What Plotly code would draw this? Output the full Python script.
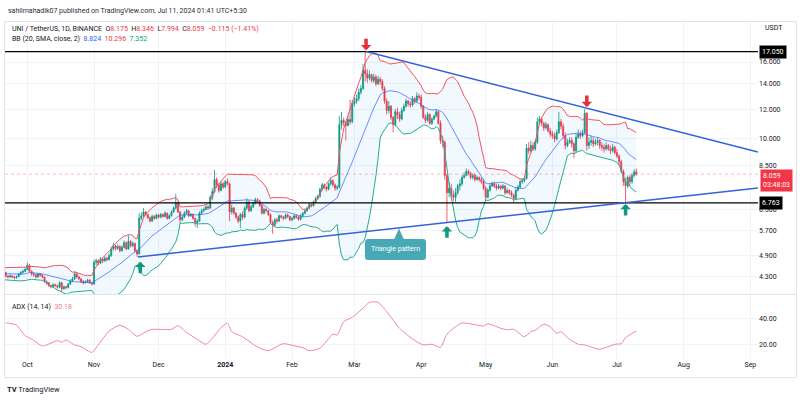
import numpy as np
import pandas as pd
import plotly.graph_objects as go
from plotly.subplots import make_subplots

FONT = "Roboto, 'Liberation Sans', Arial, sans-serif"
TXT = "#131722"
UP = "#089981"
DN = "#F23645"

# ---------------- data: UNI/USDT daily (Sep 1 2023 -> Jul 10 2024) ----------------
first_open = 4.40
last_open = 8.175
closes = [
    # Sep 2023
    4.38, 4.36, 4.35, 4.30, 4.33, 4.36, 4.40, 4.45, 4.44, 4.30, 4.20, 4.28, 4.35, 4.42, 4.48,
    4.50, 4.46, 4.52, 4.48, 4.42, 4.32, 4.30, 4.33, 4.30, 4.28, 4.31, 4.38, 4.42, 4.45, 4.50,
    # Oct
    4.62, 4.45, 4.38, 4.36, 4.30, 4.38, 4.35, 4.30, 4.18, 4.15, 4.08, 4.05, 4.10, 4.08, 4.04, 4.15,
    4.00, 4.05, 4.03, 4.12, 4.20, 4.25, 4.38, 4.30, 4.25, 4.18, 4.15, 4.18, 4.22, 4.15, 4.12,
    # Nov
    4.70, 4.75, 4.68, 4.80, 4.74, 4.82, 4.78, 4.90, 5.10, 5.20, 5.12, 5.18, 5.05, 5.15, 5.30,
    5.10, 5.35, 5.20, 5.28, 5.05, 4.95, 6.15, 6.25, 6.40, 6.30, 6.18, 6.05, 6.22, 6.15, 6.28,
    # Dec
    6.20, 6.30, 6.22, 6.35, 6.15, 6.25, 6.40, 6.55, 6.75, 6.40, 6.10, 6.20, 6.35, 6.45, 6.25, 6.30,
    6.15, 6.00, 6.05, 6.35, 6.45, 6.50, 6.60, 6.55, 7.00, 7.25, 7.80, 7.55, 7.30, 7.60, 7.45,
    # Jan 2024
    7.70, 7.60, 6.40, 6.55, 6.35, 6.20, 6.05, 6.30, 6.20, 6.55, 6.80, 6.45, 6.60, 6.75, 6.90, 6.85,
    6.65, 6.35, 6.50, 6.45, 6.30, 6.00, 5.90, 6.10, 6.05, 6.25, 6.20, 6.15, 6.28, 6.22, 6.10,
    # Feb
    6.15, 6.25, 6.20, 6.12, 6.25, 6.35, 6.45, 6.55, 6.70, 6.65, 6.80, 6.95, 7.05, 7.35, 7.55,
    7.45, 7.35, 7.60, 7.75, 7.55, 7.40, 7.45, 10.90, 11.20, 11.05, 10.85, 11.25, 11.10, 12.40,
    # Mar
    12.60, 12.80, 13.30, 13.60, 15.20, 14.90, 14.50, 14.80, 14.30, 14.60, 14.00, 14.40, 14.20, 13.60, 12.60, 11.90,
    12.20, 11.40, 10.90, 11.80, 11.60, 11.30, 11.90, 12.20, 12.60, 12.40, 12.30, 12.80, 12.60, 13.00, 12.90,
    # Apr
    12.20, 11.40, 11.20, 11.60, 11.00, 11.30, 11.50, 11.80, 11.00, 9.90, 9.80, 8.00, 7.20, 7.40, 7.10,
    7.00, 7.20, 7.50, 7.60, 7.90, 8.00, 8.20, 8.10, 7.90, 8.00, 7.80, 7.90, 7.80, 7.70, 7.40,
    # May
    7.00, 7.30, 7.50, 7.60, 7.50, 7.40, 7.50, 7.40, 7.50, 7.20, 7.30, 7.20, 7.10, 6.95, 7.30, 7.45,
    7.70, 7.75, 7.85, 9.45, 9.30, 9.60, 9.40, 9.80, 11.10, 11.30, 11.00, 10.70, 10.90, 10.50, 10.30,
    # Jun
    10.20, 10.00, 10.40, 11.10, 10.80, 10.20, 9.60, 9.80, 9.90, 9.70, 9.30, 10.10, 10.30, 10.20, 10.40,
    11.70, 9.60, 9.80, 9.90, 9.70, 9.80, 9.90, 9.60, 9.50, 9.40, 9.60, 9.40, 9.30, 9.50, 9.20,
    # Jul
    9.00, 8.70, 8.20, 7.70, 7.50, 7.90, 7.70, 8.00, 8.174, 8.059,
]
highs = [
    4.42, 4.41, 4.39, 4.37, 4.36, 4.39, 4.43, 4.49, 4.48, 4.45, 4.31, 4.31, 4.38, 4.45, 4.51,
    4.55, 4.52, 4.56, 4.54, 4.50, 4.44, 4.35, 4.37, 4.35, 4.33, 4.34, 4.40, 4.46, 4.50, 4.55,
    4.70, 4.66, 4.48, 4.42, 4.38, 4.41, 4.40, 4.37, 4.31, 4.21, 4.17, 4.10, 4.14, 4.13, 4.10, 4.19,
    4.17, 4.08, 4.08, 4.15, 4.24, 4.30, 4.46, 4.44, 4.33, 4.28, 4.22, 4.21, 4.25, 4.24, 4.17,
    4.78, 4.82, 4.79, 4.86, 4.83, 4.88, 4.86, 4.96, 5.18, 5.30, 5.24, 5.25, 5.22, 5.22, 5.38,
    5.34, 5.55, 5.38, 5.34, 5.30, 5.10, 6.35, 6.38, 6.55, 6.45, 6.34, 6.22, 6.30, 6.28, 6.34,
    6.32, 6.36, 6.34, 6.42, 6.38, 6.30, 6.46, 6.62, 7.15, 6.80, 6.44, 6.28, 6.42, 6.52, 6.48, 6.36,
    6.34, 6.18, 6.12, 6.42, 6.52, 6.58, 6.68, 6.66, 7.10, 7.40, 8.27, 7.90, 7.62, 7.70, 7.68,
    7.78, 7.85, 7.65, 6.70, 6.60, 6.40, 6.26, 6.36, 6.42, 6.62, 6.95, 6.86, 6.68, 6.82, 6.98, 6.96,
    6.90, 6.70, 6.58, 6.55, 6.48, 6.34, 6.08, 6.16, 6.18, 6.30, 6.30, 6.24, 6.34, 6.34, 6.26,
    6.22, 6.30, 6.30, 6.24, 6.32, 6.40, 6.50, 6.62, 6.78, 6.76, 6.86, 7.02, 7.12, 7.42, 7.65,
    7.62, 7.48, 7.66, 7.90, 7.80, 7.62, 7.55, 11.50, 11.80, 11.40, 11.15, 11.50, 12.70, 12.65,
    12.90, 13.10, 13.60, 13.90, 15.80, 17.05, 15.30, 15.20, 14.90, 14.90, 14.80, 14.70, 14.60, 14.40, 13.80, 12.80,
    12.60, 12.30, 11.50, 12.00, 12.10, 11.80, 12.10, 12.40, 12.80, 12.70, 12.60, 13.00, 12.90, 13.30, 13.20,
    13.10, 12.30, 11.60, 11.80, 11.70, 11.40, 11.60, 12.00, 11.90, 11.20, 10.20, 9.90, 8.10, 7.70, 7.60,
    7.30, 7.40, 7.60, 7.80, 8.00, 8.15, 8.35, 8.30, 8.20, 8.10, 8.10, 8.00, 7.95, 7.90, 7.80,
    7.50, 7.40, 7.60, 7.70, 7.70, 7.60, 7.60, 7.55, 7.60, 7.55, 7.40, 7.35, 7.30, 7.15, 7.40, 7.55,
    7.80, 7.85, 7.95, 9.70, 9.80, 9.90, 9.80, 9.95, 11.40, 11.50, 11.40, 11.10, 11.10, 11.00, 10.70,
    10.50, 10.40, 10.60, 11.80, 11.30, 11.00, 10.40, 10.00, 10.10, 10.10, 9.80, 10.30, 10.60, 10.50, 10.60,
    12.00, 11.80, 10.10, 10.20, 10.10, 10.00, 10.10, 10.00, 9.80, 9.70, 9.80, 9.70, 9.60, 9.70, 9.60,
    9.40, 9.10, 8.80, 8.30, 7.90, 8.00, 8.00, 8.10, 8.30, 8.346,
]
lows = [
    4.34, 4.32, 4.31, 4.27, 4.28, 4.31, 4.34, 4.39, 4.40, 4.28, 4.15, 4.18, 4.26, 4.33, 4.40,
    4.45, 4.42, 4.44, 4.45, 4.38, 4.29, 4.26, 4.28, 4.27, 4.24, 4.26, 4.29, 4.36, 4.40, 4.43,
    4.48, 4.42, 4.33, 4.31, 4.26, 4.28, 4.31, 4.26, 4.15, 4.10, 4.04, 4.01, 4.03, 4.05, 4.00, 4.02,
    3.92, 3.98, 3.99, 4.01, 4.10, 4.17, 4.22, 4.26, 4.21, 4.14, 4.11, 4.13, 4.15, 4.12, 4.08,
    4.10, 4.63, 4.62, 4.65, 4.68, 4.72, 4.73, 4.76, 4.86, 5.05, 5.05, 5.08, 5.00, 5.02, 5.12,
    5.06, 5.08, 5.15, 5.16, 5.00, 4.86, 4.93, 6.08, 6.20, 6.24, 6.12, 6.00, 6.02, 6.10, 6.12,
    6.14, 6.16, 6.18, 6.20, 6.10, 6.12, 6.22, 6.36, 6.50, 6.35, 5.95, 6.05, 6.16, 6.30, 6.20, 6.20,
    6.10, 5.85, 5.80, 6.02, 6.30, 6.40, 6.46, 6.48, 6.52, 6.90, 7.18, 7.40, 7.20, 7.25, 7.36,
    7.40, 7.52, 6.05, 6.30, 6.28, 6.12, 5.98, 5.80, 6.10, 6.15, 6.48, 6.38, 6.40, 6.55, 6.70, 6.78,
    6.60, 6.30, 6.30, 6.38, 6.24, 5.94, 5.60, 5.86, 5.96, 6.02, 6.14, 6.08, 6.12, 6.16, 6.04,
    6.05, 6.10, 6.14, 6.06, 6.08, 6.20, 6.30, 6.40, 6.50, 6.58, 6.60, 6.76, 6.90, 6.98, 7.28,
    7.35, 7.25, 7.30, 7.52, 7.45, 7.28, 7.30, 7.38, 10.60, 10.80, 9.90, 10.80, 10.90, 11.00,
    12.20, 12.40, 12.60, 13.10, 13.50, 14.20, 14.10, 14.30, 14.10, 14.10, 13.80, 13.90, 13.90, 13.40, 12.40, 11.60,
    11.70, 11.20, 10.40, 10.80, 11.30, 11.10, 11.20, 11.80, 12.10, 12.20, 12.10, 12.20, 12.40, 12.50, 12.70,
    12.00, 11.30, 11.00, 11.10, 10.90, 10.90, 11.20, 11.40, 10.90, 9.70, 9.50, 7.80, 5.98, 7.00, 6.95,
    6.85, 6.80, 7.10, 7.30, 7.50, 7.85, 7.95, 8.00, 7.80, 7.80, 7.70, 7.75, 7.70, 7.60, 7.30,
    6.85, 6.95, 7.25, 7.45, 7.40, 7.30, 7.35, 7.30, 7.35, 7.10, 7.15, 7.10, 7.00, 6.80, 6.90, 7.25,
    7.40, 7.60, 7.65, 7.80, 9.10, 9.20, 9.30, 9.30, 9.70, 10.90, 10.80, 10.50, 10.60, 10.40, 10.10,
    10.00, 9.80, 9.90, 10.30, 10.60, 10.00, 9.40, 9.50, 9.70, 9.50, 8.90, 9.20, 10.00, 10.00, 10.10,
    10.30, 9.30, 9.40, 9.60, 9.50, 9.60, 9.60, 9.40, 9.30, 9.20, 9.30, 9.30, 9.10, 9.20, 9.10,
    8.90, 8.50, 8.10, 7.50, 6.80, 7.40, 7.50, 7.60, 7.90, 7.994,
]

# ADX (14,14) readings
adx_dates = [
    "2023-09-21", "2023-09-26", "2023-09-30", "2023-10-03", "2023-10-08", "2023-10-10", "2023-10-15",
    "2023-10-17", "2023-10-19", "2023-10-23", "2023-10-26", "2023-10-31", "2023-11-03", "2023-11-08",
    "2023-11-13", "2023-11-17", "2023-11-21", "2023-11-26", "2023-11-28", "2023-12-07", "2023-12-10",
    "2023-12-14", "2023-12-19", "2023-12-23", "2023-12-26", "2023-12-30", "2024-01-02", "2024-01-04",
    "2024-01-09", "2024-01-14", "2024-01-18", "2024-01-21", "2024-01-25", "2024-01-28", "2024-02-02",
    "2024-02-06", "2024-02-09", "2024-02-14", "2024-02-20", "2024-02-22", "2024-02-25", "2024-02-29",
    "2024-03-05", "2024-03-08", "2024-03-12", "2024-03-16", "2024-03-22", "2024-03-26", "2024-03-30",
    "2024-04-02", "2024-04-06", "2024-04-10", "2024-04-13", "2024-04-17", "2024-04-20", "2024-04-25",
    "2024-04-30", "2024-05-02", "2024-05-05", "2024-05-08", "2024-05-11", "2024-05-14", "2024-05-19",
    "2024-05-22", "2024-05-24", "2024-05-28", "2024-05-31", "2024-06-03", "2024-06-05", "2024-06-08",
    "2024-06-13", "2024-06-16", "2024-06-19", "2024-06-23", "2024-06-26", "2024-06-30", "2024-07-03",
    "2024-07-05", "2024-07-10",
]
adx_values = [
    36.6, 34.8, 26.6, 24.0, 18.7, 19.5, 22.8,
    21.5, 23.3, 19.5, 18.2, 13.8, 19.5, 30.2,
    34.6, 31.5, 26.2, 30.5, 31.5, 31.5, 34.3,
    29.2, 23.8, 20.0, 24.6, 32.8, 36.2, 29.7,
    25.8, 20.0, 16.4, 15.1, 18.2, 20.5, 18.9,
    17.4, 15.1, 16.9, 27.7, 27.2, 37.4, 40.8,
    47.7, 52.3, 52.3, 45.1, 32.3, 26.6, 22.0,
    19.5, 20.0, 17.7, 27.7, 33.5, 36.4, 35.4,
    34.1, 35.8, 34.3, 32.3, 31.2, 31.5, 25.8,
    29.7, 30.8, 35.4, 33.5, 28.5, 29.7, 25.1,
    20.0, 19.5, 17.9, 16.2, 17.7, 20.0, 20.5,
    25.1, 30.18,
]

# drawn levels / trendlines / markers
levels = [17.05, 6.763]
upper_tl_dates = ["2024-03-06 10:00", "2024-09-04 12:00"]
upper_tl_prices = [17.05, 9.23]
lower_tl_dates = ["2023-11-21 11:00", "2024-09-04 12:00"]
lower_tl_prices = [4.858, 7.41]
red_arrow_dates = ["2024-03-06 10:00", "2024-06-17"]
red_arrow_prices = [17.2, 12.15]
green_arrow_dates = ["2023-11-22 12:00", "2024-04-13", "2024-07-05"]
green_arrow_prices = [4.72, 5.86, 6.72]
bb_last = [8.824, 10.296, 7.352]

price_ticks = [4.3, 4.9, 5.7, 6.5, 8.5, 10, 12, 14, 16]
month_ticks = ["2023-10-01", "2023-11-01", "2023-12-01", "2024-01-01", "2024-02-01", "2024-03-01",
               "2024-04-01", "2024-05-01", "2024-06-01", "2024-07-01", "2024-08-01", "2024-09-01"]
month_labels = ["Oct", "Nov", "Dec", "<b>2024</b>", "Feb", "Mar", "Apr", "May", "Jun", "Jul", "Aug", "Sep"]

# ---------------- derived ----------------
dates = pd.date_range("2023-09-01", periods=len(closes), freq="D")
opens = [first_open] + closes[:-1]
opens[-1] = last_open
highs = [max(h, o, c) for h, o, c in zip(highs, opens, closes)]
lows = [min(l, o, c) for l, o, c in zip(lows, opens, closes)]
s = pd.Series(closes, index=dates)
basis = s.rolling(20).mean()
dev = s.rolling(20).std(ddof=0)
bb_up = basis + 2 * dev
bb_lo = basis - 2 * dev

X0, X1 = "2023-09-20 15:19", "2024-09-04 13:00"

# pixel helpers for layout decoration (plot area: x 5..758, y 22..359)
def px(x):
    return (x - 5) / 753.0

def py(y):
    return (359 - y) / 337.0

fig = make_subplots(rows=2, cols=1, shared_xaxes=True, vertical_spacing=0.0)

fig.add_trace(go.Scatter(x=dates, y=bb_up, mode="lines", line=dict(color="#F7525F", width=1),
                         opacity=0.75, hoverinfo="skip"), row=1, col=1)
fig.add_trace(go.Scatter(x=dates, y=bb_lo, mode="lines", line=dict(color="#22AB94", width=1),
                         fill="tonexty", fillcolor="rgba(33,150,243,0.06)", opacity=0.85,
                         hoverinfo="skip"), row=1, col=1)
fig.add_trace(go.Scatter(x=dates, y=basis, mode="lines", line=dict(color="#2962FF", width=1),
                         opacity=0.7, hoverinfo="skip"), row=1, col=1)

fig.add_trace(go.Candlestick(
    x=dates, open=opens, high=highs, low=lows, close=closes,
    increasing=dict(line=dict(color=UP, width=0.8), fillcolor=UP),
    decreasing=dict(line=dict(color=DN, width=0.8), fillcolor=DN),
    whiskerwidth=0, hoverinfo="skip"), row=1, col=1)

# current price line
fig.add_trace(go.Scatter(x=[X0, X1], y=[closes[-1]] * 2, mode="lines",
                         line=dict(color="rgba(242,54,69,0.35)", width=1, dash="dot"),
                         hoverinfo="skip"), row=1, col=1)
# horizontal levels
for lv in levels:
    fig.add_trace(go.Scatter(x=[X0, X1], y=[lv, lv], mode="lines",
                             line=dict(color="#000000", width=1.4), hoverinfo="skip"), row=1, col=1)
# trendlines
fig.add_trace(go.Scatter(x=upper_tl_dates, y=upper_tl_prices, mode="lines",
                         line=dict(color="#3461D9", width=1.5), hoverinfo="skip"), row=1, col=1)
fig.add_trace(go.Scatter(x=lower_tl_dates, y=lower_tl_prices, mode="lines",
                         line=dict(color="#3461D9", width=1.5), hoverinfo="skip"), row=1, col=1)

# ADX
fig.add_trace(go.Scatter(x=adx_dates, y=adx_values, mode="lines",
                         line=dict(color="#EF8A91", width=1, shape="spline", smoothing=0.6),
                         hoverinfo="skip"), row=2, col=1)

ann = []
# header
ann.append(dict(xref="paper", yref="paper", x=px(6), y=py(11), xanchor="left", yanchor="middle",
                text="sahilmahadik07 published on TradingView.com, Jul 11, 2024 01:41 UTC+5:30",
                showarrow=False, font=dict(size=7, color="#2a2e39")))
o, h, l, c = opens[-1], highs[-1], lows[-1], closes[-1]
chg = c - closes[-2]
pct = chg / closes[-2] * 100
val = lambda v: f"<span style='color:{DN}'>{v}</span>"
sp = "\u00a0\u00a0"
line1 = ("UNI / TetherUS, 1D, BINANCE" + sp + "O" + val(f"{o:.3f}") + sp + "H" + val(f"{h:.3f}") + sp +
         "L" + val(f"{l:.3f}") + sp + "C" + val(f"{c:.3f}") + sp +
         val(f"\u2212{abs(chg):.3f} (\u2212{abs(pct):.2f}%)"))
ann.append(dict(xref="paper", yref="paper", x=px(10), y=py(29), xanchor="left", yanchor="middle",
                text=line1, showarrow=False, font=dict(size=7, color=TXT)))
line2 = ("BB (20, SMA, close, 2)" + sp + f"<span style='color:#2962FF'>{bb_last[0]:.3f}</span>" + sp +
         f"<span style='color:{DN}'>{bb_last[1]:.3f}</span>" + sp +
         f"<span style='color:{UP}'>{bb_last[2]:.3f}</span>")
ann.append(dict(xref="paper", yref="paper", x=px(10), y=py(39.5), xanchor="left", yanchor="middle",
                text=line2, showarrow=False, font=dict(size=7, color=TXT)))
ann.append(dict(xref="paper", yref="paper", x=px(10), y=py(307), xanchor="left", yanchor="middle",
                text="ADX (14, 14)" + sp + f"<span style='color:#EF7A83'>{adx_values[-1]:.2f}</span>",
                showarrow=False, font=dict(size=7, color=TXT)))
ann.append(dict(xref="paper", yref="paper", x=px(774), y=py(28), xanchor="center", yanchor="middle",
                text="USDT", showarrow=False, font=dict(size=7, color=TXT)))
ann.append(dict(xref="paper", yref="paper", x=px(5), y=py(389), xanchor="left", yanchor="middle",
                text="<b>TV</b> TradingView", showarrow=False, font=dict(size=7.5, color=TXT)))
# price scale labels
for lv in levels:
    ann.append(dict(xref="paper", yref="y", x=1, xshift=1, y=np.log10(lv), xanchor="left",
                    yanchor="middle", text=f"{lv:.3f}", showarrow=False, bgcolor="#000000",
                    borderpad=2, font=dict(size=7, color="#ffffff")))
ann.append(dict(xref="paper", yref="y", x=1, xshift=2, y=np.log10(c), yshift=5, xanchor="left",
                yanchor="top", text=f"{c:.3f}<br>03:48:03", showarrow=False, bgcolor=DN,
                borderpad=2, align="left", font=dict(size=7, color="#ffffff")))
# arrows
for d, p in zip(red_arrow_dates, red_arrow_prices):
    ann.append(dict(xref="x", yref="y", x=d, y=np.log10(p), text="", showarrow=True, ax=0, ay=-13,
                    arrowhead=1, arrowsize=0.5, arrowwidth=3.5, arrowcolor="#E3303C", standoff=0))
for d, p in zip(green_arrow_dates, green_arrow_prices):
    ann.append(dict(xref="x", yref="y", x=d, y=np.log10(p), text="", showarrow=True, ax=0, ay=13,
                    arrowhead=1, arrowsize=0.5, arrowwidth=3.5, arrowcolor="#0E9A7E", standoff=0))
# callout text
ann.append(dict(xref="paper", yref="paper", x=px(395.5), y=py(249.5), xanchor="center", yanchor="middle",
                text="Triangle pattern", showarrow=False, font=dict(size=7, color="#ffffff")))

# callout box (rounded) + pointer
x0, x1, y0, y1, r = 365, 426, 239, 260, 3
pts = [("M", x0 + r, y0), ("L", x1 - r, y0), ("Q", x1, y0, x1, y0 + r), ("L", x1, y1 - r),
       ("Q", x1, y1, x1 - r, y1), ("L", x0 + r, y1), ("Q", x0, y1, x0, y1 - r), ("L", x0, y0 + r),
       ("Q", x0, y0, x0 + r, y0)]
path = ""
for p_ in pts:
    cmd = p_[0]
    coords = p_[1:]
    seg = []
    for i in range(0, len(coords), 2):
        seg.append(f"{px(coords[i]):.5f},{py(coords[i + 1]):.5f}")
    path += cmd + " ".join(seg) + " "
path += "Z"
shapes = [
    dict(type="path", xref="paper", yref="paper", path=path, fillcolor="#48A9B4",
         line=dict(width=0)),
    dict(type="path", xref="paper", yref="paper",
         path=f"M{px(394):.5f},{py(239.5):.5f} L{px(399):.5f},{py(228.5):.5f} L{px(404):.5f},{py(239.5):.5f} Z",
         fillcolor="#48A9B4", line=dict(width=0)),
    # pane separator
    dict(type="line", xref="paper", yref="paper", x0=px(4.5), x1=px(796.5), y0=py(294.5), y1=py(294.5),
         line=dict(color="#e0e3eb", width=1)),
    # outer frame
    dict(type="rect", xref="paper", yref="paper", x0=px(4.5), x1=px(796.5), y0=py(21.5), y1=py(377.5),
         line=dict(color="#e0e3eb", width=1), fillcolor="rgba(0,0,0,0)", layer="below"),
]

fig.update_layout(
    width=800, height=400, margin=dict(l=5, r=42, t=22, b=41),
    paper_bgcolor="white", plot_bgcolor="white", showlegend=False,
    font=dict(family=FONT, size=7, color=TXT),
    annotations=ann, shapes=shapes, hovermode=False,
)
grid = "#f0f3fa"
fig.update_xaxes(rangeslider_visible=False, range=[X0, X1], showgrid=True, gridcolor=grid,
                 zeroline=False, showline=False, ticks="", tickvals=month_ticks, ticktext=month_labels,
                 tickfont=dict(size=7, color=TXT))
fig.update_xaxes(showticklabels=False, row=1, col=1)
fig.update_xaxes(showticklabels=True, row=2, col=1)
fig.update_layout(
    yaxis=dict(domain=[0.19288, 1.0], type="log", range=[0.58825, 1.31030], side="right",
               tickvals=price_ticks, ticktext=[f"{v:.3f}" for v in price_ticks], showgrid=True,
               gridcolor=grid, zeroline=False, ticks="", tickfont=dict(size=7, color=TXT)),
    yaxis2=dict(domain=[0.0, 0.18991], range=[8.69, 57.92], side="right", tickvals=[20, 40],
                ticktext=["20.00", "40.00"], showgrid=True, gridcolor=grid, zeroline=False, ticks="",
                tickfont=dict(size=7, color=TXT)),
)

fig.write_html("out.html", config={"displayModeBar": False, "staticPlot": True})
# remove default page margins so the 800x400 figure sits at the window origin
with open("out.html", "r", encoding="utf-8") as f:
    html = f.read()
html = html.replace("<head>", "<head><style>html,body{margin:0;padding:0;overflow:hidden;}</style>", 1)
with open("out.html", "w", encoding="utf-8") as f:
    f.write(html)
